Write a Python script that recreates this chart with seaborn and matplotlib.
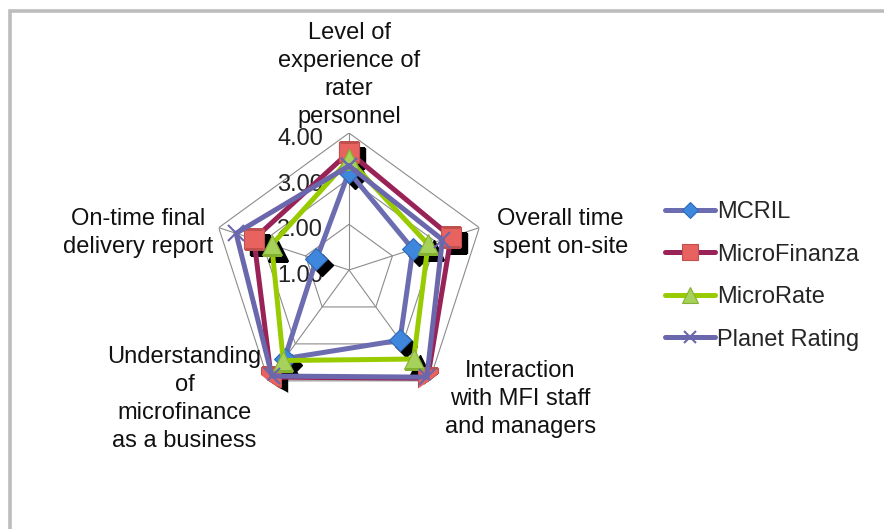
import numpy as np
import matplotlib
matplotlib.use("Agg")
import matplotlib.pyplot as plt
import matplotlib.patches as patches
from matplotlib.transforms import offset_copy
import seaborn as sns

## Data
categories = ['Level of\nexperience of\nrater\npersonnel',
              'Overall time\nspent on-site',
              'Interaction\nwith MFI staff\nand managers',
              'Understanding\nof\nmicrofinance\nas a business',
              'On-time final\ndelivery report']
series     = ['MCRIL', 'MicroFinanza', 'MicroRate', 'Planet Rating']
mcril        = [3.15, 2.47, 2.90, 3.40, 1.75]
microfinanza = [3.58, 3.35, 3.93, 3.90, 3.19]
microrate    = [3.42, 2.82, 3.41, 3.45, 2.78]
planet       = [3.28, 3.15, 3.90, 3.87, 3.60]
values       = [mcril, microfinanza, microrate, planet]
r_ticks      = [1.00, 2.00, 3.00, 4.00]
r_labels     = ['1.00', '2.00', '3.00', '4.00']

## Styles
line_colors = ['#6B6DB0', '#992257', '#99CC00', '#6A67AC']
face_colors = ['#3F86DD', '#E8625F', '#A6D15A', '#6A67AC']
edge_colors = ['#2E6BB8', '#C0504D', '#86B030', '#6A67AC']
markers     = ['D', 's', '^', 'x']
msizes      = [11, 15, 15, 11]

sns.set_style('white')
plt.rcParams['font.family'] = ['Liberation Sans', 'DejaVu Sans']
fs = 17

W, H = 884, 529
fig = plt.figure(figsize=(W / 100, H / 100), dpi=100)

# chart frame
fig.patches.append(patches.Rectangle((10 / W, -0.2), 1.2, 1.2 - 10.5 / H,
                                     transform=fig.transFigure, fill=False,
                                     edgecolor='#BDBDBD', linewidth=2.6))

ax = fig.add_axes([212 / W, (H - 407) / H, 274 / W, 274 / H], projection='polar')
ax.set_theta_offset(np.pi / 2)
ax.set_theta_direction(-1)
ax.set_ylim(1, 4)
ax.grid(False)
ax.set_xticks([])
ax.set_yticks([])
ax.spines['polar'].set_visible(False)
ax.patch.set_alpha(0)

n = len(categories)
theta = np.linspace(0, 2 * np.pi, n, endpoint=False)
theta_c = np.append(theta, 2 * np.pi)

# pentagon grid
for r in r_ticks[1:]:
    ax.plot(theta_c, [r] * (n + 1), color='#8C8C8C', lw=0.8, zorder=1)
for t in theta:
    ax.plot([t, t], [1, 4], color='#8C8C8C', lw=0.8, zorder=1)

# radial tick labels
for r, lab in zip(r_ticks, r_labels):
    tr = offset_copy(ax.transData, fig=fig, x=-26, y=-6, units='dots')
    ax.text(0, r, lab, transform=tr, ha='right', va='center', fontsize=fs,
            color='#222222', zorder=1.5)

# marker shadows
shadow_tr = offset_copy(ax.transData, fig=fig, x=6, y=-6, units='dots')
for i, name in enumerate(series):
    if markers[i] == 'x':
        continue
    ax.plot(theta, values[i], linestyle='none', marker=markers[i], ms=msizes[i],
            color='black', transform=shadow_tr, zorder=2)

# series
handles = []
for i, name in enumerate(series):
    vals_c = np.append(values[i], values[i][0])
    sns.lineplot(x=theta_c, y=vals_c, sort=False, estimator=None, ax=ax,
                 color=line_colors[i], linewidth=3.6, marker=markers[i],
                 markersize=msizes[i], markerfacecolor=face_colors[i],
                 markeredgecolor=edge_colors[i], markeredgewidth=1.5 if markers[i] == 'x' else 0.8,
                 zorder=3 + i, label=name, legend=False)
    handles.append(ax.lines[-1])

# category labels
offsets = [(0, 58), (81, -5), (91, -18), (-84, -18), (-81, -5)]
for t, lab, (dx, dy) in zip(theta, categories, offsets):
    tr = offset_copy(ax.transData, fig=fig, x=dx, y=dy, units='dots')
    ax.text(t, 4, lab, transform=tr, ha='center', va='center', fontsize=fs,
            multialignment='center', linespacing=1.36, color='#111111')

ax.set_xlabel('')
ax.set_ylabel('')

fig.legend(handles, series, loc='upper left', bbox_to_anchor=(665 / W, 1 - 201 / H),
           bbox_transform=fig.transFigure, frameon=False, fontsize=fs,
           handlelength=2.1, handletextpad=0.12, labelspacing=0.87,
           borderpad=0, borderaxespad=0, markerscale=0.75)

fig.savefig('out.png', dpi=100)
